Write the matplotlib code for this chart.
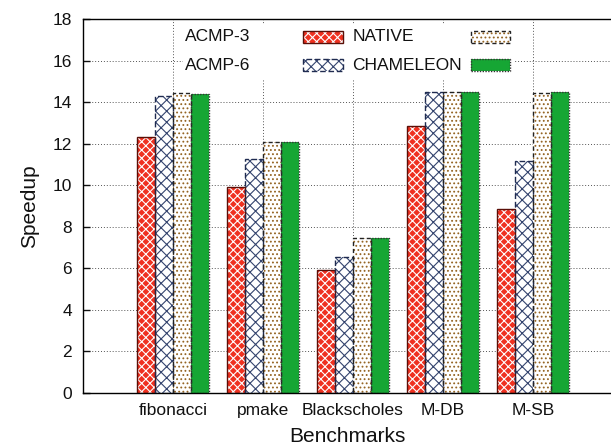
import numpy as np
import matplotlib.pyplot as plt
from matplotlib.patches import Rectangle

plt.rcParams['font.family'] = ['Liberation Sans', 'DejaVu Sans']
plt.rcParams['hatch.linewidth'] = 0.8

benchmarks = ['fibonacci', 'pmake', 'Blackscholes', 'M-DB', 'M-SB']
series = ['ACMP-3', 'ACMP-6', 'NATIVE', 'CHAMELEON']
acmp3 = [12.3, 9.9, 5.9, 12.85, 8.85]
acmp6 = [14.3, 11.25, 6.55, 14.5, 11.15]
native = [14.45, 12.1, 7.45, 14.5, 14.45]
chameleon = [14.4, 12.1, 7.45, 14.5, 14.5]
values = [acmp3, acmp6, native, chameleon]

# fill, hatch, hatch colour, outline colour, outline style
styles = [
    ('#ef3120', 'xxxx', 'white', '#5a0f08', '-'),
    ('white', 'xxx', '#34446e', '#1f2b50', (0, (4, 2))),
    ('white', '....', '#946422', '#222222', (0, (3, 2))),
    ('#16a634', None, '#16a634', '#333333', (0, (1, 1))),
]

fig = plt.figure(figsize=(6.11, 4.45), dpi=100)
ax = fig.add_axes([83 / 611, 52 / 445, 528 / 611, 374 / 445])

x = np.arange(1, len(benchmarks) + 1)
w = 0.2
for i, (vals, st) in enumerate(zip(values, styles)):
    face, hatch, hcol, edge, ls = st
    pos = x + (i - 1.5) * w
    ax.bar(pos, vals, w, color=face, edgecolor=hcol, hatch=hatch, lw=0, zorder=2)
    ax.bar(pos, vals, w, fill=False, edgecolor=edge, linestyle=ls, lw=1.0, zorder=3)

ax.set_xlim(0, 528 / 90)
ax.set_ylim(0, 18)
ax.set_yticks(np.arange(0, 19, 2))
ax.set_xticks(x)
ax.set_xticklabels(benchmarks)
ax.tick_params(direction='in', length=5, labelsize=12.5, width=1, colors='#111111')
ax.tick_params(axis='y', pad=8)
ax.tick_params(axis='x', pad=7)
ax.grid(True, linestyle=(0, (1, 2)), color='#555555', lw=0.7, zorder=0)
ax.set_axisbelow(True)
ax.spines['right'].set_visible(False)
for s in ['left', 'bottom', 'top']:
    ax.spines[s].set_linewidth(1.0)

ax.set_xlabel('Benchmarks', fontsize=15, labelpad=7, color='#111111')
ax.set_ylabel('Speedup', fontsize=15, labelpad=10, color='#111111')

# key laid out as two rows: label then swatch
ax.add_patch(Rectangle((0.19, 0.837), 0.626, 0.147, transform=ax.transAxes,
                       facecolor='white', edgecolor='none', zorder=4))
text_x = [0.1935, 0.1935, 0.5104, 0.5104]
sw_x = [0.4175, 0.4175, 0.734, 0.734]
row_y = [0.952, 0.877, 0.952, 0.877]
sw_w, sw_h = 0.074, 0.032
for name, st, tx, sx, ry in zip(series, styles, text_x, sw_x, row_y):
    face, hatch, hcol, edge, ls = st
    ax.text(tx, ry, name, transform=ax.transAxes, fontsize=12.5, color='#111111',
            ha='left', va='center', zorder=5)
    ax.add_patch(Rectangle((sx, ry - sw_h / 2), sw_w, sw_h, transform=ax.transAxes,
                           facecolor=face, edgecolor=hcol, hatch=hatch, lw=0, zorder=5))
    ax.add_patch(Rectangle((sx, ry - sw_h / 2), sw_w, sw_h, transform=ax.transAxes,
                           fill=False, edgecolor=edge, linestyle=ls, lw=1.0, zorder=6))

fig.savefig('out.png', dpi=100)
